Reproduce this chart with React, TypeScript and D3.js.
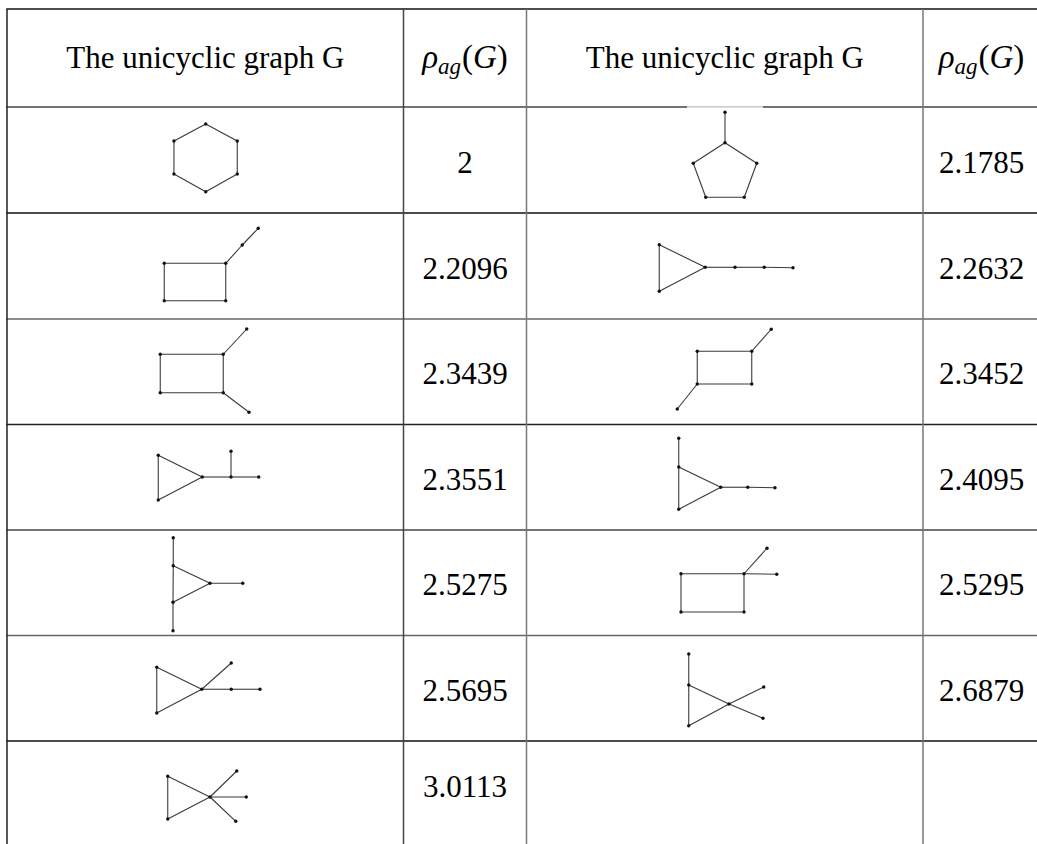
import React from 'react';
import * as d3 from 'd3';

// spectral values per row (left pair of columns, right pair of columns)
const leftValues = ['2', '2.2096', '2.3439', '2.3551', '2.5275', '2.5695', '3.0113'];
const rightValues = ['2.1785', '2.2632', '2.3452', '2.4095', '2.5295', '2.6879', ''];
const headerGraph = 'The unicyclic graph G';

type Graph = { nodes: [number, number][]; edges: [number, number][] };

// graph layouts, offsets from the cell centre (layout units)
const leftGraphs: Graph[] = [
  { nodes: [[0.5, -36], [32, -19], [32, 14], [0.5, 31.7], [-31.3, 14], [-31.3, -19]],
    edges: [[0, 1], [1, 2], [2, 3], [3, 4], [4, 5], [5, 0]] },
  { nodes: [[-41, -2.7], [20.5, -2.7], [20.5, 34.7], [-41, 34.7], [37, -21], [53, -37.7]],
    edges: [[0, 1], [1, 2], [2, 3], [3, 0], [1, 4], [4, 5]] },
  { nodes: [[-45, -17.5], [18, -17.5], [18, 21], [-45, 21], [41.5, -42.75], [43.75, 40.5]],
    edges: [[0, 1], [1, 2], [2, 3], [3, 0], [1, 4], [2, 5]] },
  { nodes: [[-47, -22], [-47, 22.75], [-3, -0.25], [25.75, -0.25], [53.5, -0.25], [25.75, -26]],
    edges: [[0, 1], [1, 2], [2, 0], [2, 3], [3, 4], [3, 5]] },
  { nodes: [[-32, -45], [-32, -17], [-32.25, 19.5], [-32.25, 48], [4.75, 0.5], [37.5, 0.5]],
    edges: [[0, 1], [1, 2], [2, 3], [1, 4], [2, 4], [4, 5]] },
  { nodes: [[-48.5, -21], [-48.5, 24.75], [-3.5, 1], [26, -25.25], [26, 1], [54.75, 1]],
    edges: [[0, 1], [1, 2], [2, 0], [2, 3], [2, 4], [4, 5]] },
  { nodes: [[-37.5, -10.75], [-37.5, 32], [4.75, 10], [31.5, -16], [41, 10], [30.5, 34.3]],
    edges: [[0, 1], [1, 2], [2, 0], [2, 3], [2, 4], [2, 5]] },
];

const rightGraphs: (Graph | null)[] = [
  { nodes: [[0.25, -47.7], [0.25, -17.3], [32, 3.3], [19.5, 37.3], [-19, 37.3], [-31.5, 3.3]],
    edges: [[0, 1], [1, 2], [2, 3], [3, 4], [4, 5], [5, 1]] },
  { nodes: [[-65.5, -21.3], [-65.5, 25.3], [-19.5, 1.3], [10.25, 1.3], [39.5, 1.3], [68.25, 1.7]],
    edges: [[0, 1], [1, 2], [2, 0], [2, 3], [3, 4], [4, 5]] },
  { nodes: [[-27.5, -20.5], [27, -20.5], [27, 12.25], [-27.5, 12.25], [46.5, -42.5], [-47.5, 37.25]],
    edges: [[0, 1], [1, 2], [2, 3], [3, 0], [1, 4], [3, 5]] },
  { nodes: [[-46, -39], [-46, -10.25], [-46, 32], [-4, 10], [23, 10], [50.25, 10.5]],
    edges: [[0, 1], [1, 2], [1, 3], [2, 3], [3, 4], [4, 5]] },
  { nodes: [[-43.75, -9], [19.25, -9], [19.25, 29.25], [-43.75, 29.25], [42.25, -34.5], [52, -8.5]],
    edges: [[0, 1], [1, 2], [2, 3], [3, 0], [1, 4], [1, 5]] },
  { nodes: [[-36, -34.25], [-36, -3.25], [-36, 37.5], [4.25, 15.75], [38.25, 30], [39, -1.25]],
    edges: [[0, 1], [1, 2], [1, 3], [3, 4], [2, 3], [3, 5]] },
  null,
];

const width = 1037;
const height = 844;
const colEdges = [7, 403.5, 526.5, 923, 1040];
const rowEdges = [9, 107, 213, 319, 424.5, 530, 635.5, 741, 827];
const hLineColors = ['#111', '#444', '#111', '#666', '#222', '#444', '#666', '#111'];
const vLineColors = ['#222', '#444', '#777', '#777'];
const fontFamily = '"Liberation Serif", "Times New Roman", serif';
const fontSize = 31;

const GraphDrawing = ({ g, cx, cy }: { g: Graph; cx: number; cy: number }) => {
  const x = d3.scaleLinear().domain([-100, 100]).range([cx - 100, cx + 100]);
  const y = d3.scaleLinear().domain([-100, 100]).range([cy - 100, cy + 100]);
  return (
    <g>
      {g.edges.map(([a, b], i) => (
        <line key={i}
          x1={x(g.nodes[a][0])} y1={y(g.nodes[a][1])}
          x2={x(g.nodes[b][0])} y2={y(g.nodes[b][1])}
          stroke="#3a3a3a" strokeWidth={1.1} />
      ))}
      {g.nodes.map((n, i) => (
        <circle key={i} cx={x(n[0])} cy={y(n[1])} r={1.7} fill="#111" />
      ))}
    </g>
  );
};

const RhoHeader = ({ cx, y }: { cx: number; y: number }) => (
  <text x={cx} y={y} textAnchor="middle" fontFamily={fontFamily} fontSize={33}>
    <tspan fontStyle="italic">ρ</tspan>
    <tspan fontStyle="italic" fontSize={23} dy={6}>ag</tspan>
    <tspan dy={-6} dx={1}>(</tspan>
    <tspan fontStyle="italic">G</tspan>
    <tspan>)</tspan>
  </text>
);

export default function App() {
  const colMid = (i: number) => (colEdges[i] + colEdges[i + 1]) / 2;
  const rowMid = (i: number) => (rowEdges[i] + rowEdges[i + 1]) / 2;
  const rows = d3.range(leftValues.length);
  // the last row is cut by the page; its graph sits a little lower than its value
  const graphShift = (r: number) => (r === rows.length - 1 ? 3 : 0);

  return (
    <div style={{ position: 'fixed', left: 0, top: 0 }}>
      <svg width={width} height={height} style={{ display: 'block', background: '#fff' }}>
        {/* grid */}
        {rowEdges.slice(0, -1).map((yy, i) => (
          <line key={'h' + i} x1={colEdges[0] - 0.75} x2={width} y1={yy} y2={yy}
            stroke={hLineColors[i]} strokeWidth={1.5} />
        ))}
        {colEdges.slice(0, -1).map((xx, i) => (
          <line key={'v' + i} x1={xx} x2={xx} y1={rowEdges[0]} y2={height}
            stroke={vLineColors[i]} strokeWidth={1.5} />
        ))}
        {/* image edge covering the rule above the pentagon */}
        <rect x={687} y={106.3} width={76} height={1.6} fill="#fff" />
        <line x1={687} x2={763} y1={107} y2={107} stroke="#bbb" strokeWidth={0.7} />

        {/* header */}
        <text x={colMid(0)} y={rowMid(0) + 10} textAnchor="middle" fontFamily={fontFamily} fontSize={fontSize}>
          {headerGraph}
        </text>
        <RhoHeader cx={colMid(1)} y={rowMid(0) + 10} />
        <text x={colMid(2)} y={rowMid(0) + 10} textAnchor="middle" fontFamily={fontFamily} fontSize={fontSize}>
          {headerGraph}
        </text>
        <RhoHeader cx={colMid(3)} y={rowMid(0) + 10} />

        {rows.map(r => {
          const cy = rowMid(r + 1);
          const rg = rightGraphs[r];
          return (
            <g key={r}>
              <GraphDrawing g={leftGraphs[r]} cx={colMid(0)} cy={cy + graphShift(r)} />
              {rg && <GraphDrawing g={rg} cx={colMid(2)} cy={cy + graphShift(r)} />}
              <text x={colMid(1)} y={cy + 12.5} textAnchor="middle" fontFamily={fontFamily} fontSize={fontSize}>
                {leftValues[r]}
              </text>
              <text x={colMid(3)} y={cy + 12.5} textAnchor="middle" fontFamily={fontFamily} fontSize={fontSize}>
                {rightValues[r]}
              </text>
            </g>
          );
        })}
      </svg>
    </div>
  );
}
